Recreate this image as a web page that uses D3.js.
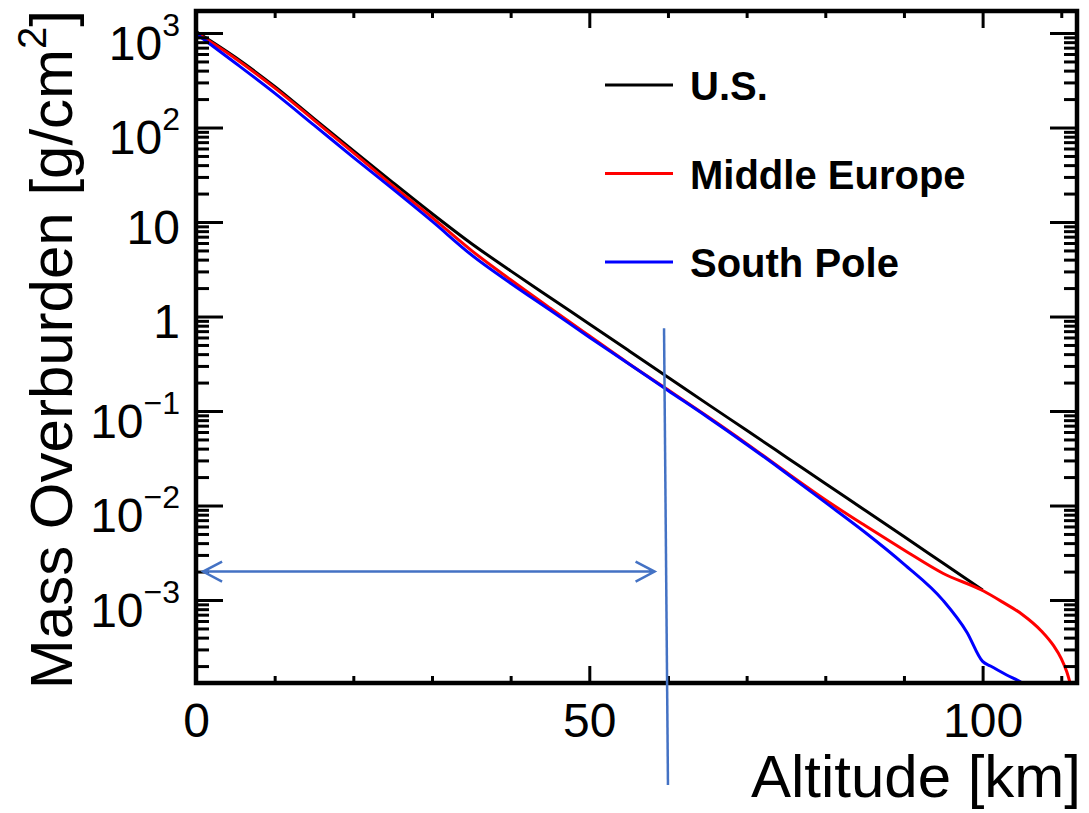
<!DOCTYPE html>
<html lang="en">
<head>
  <meta charset="UTF-8">
  <title>mass overburden</title>
  <script src="https://cdn.jsdelivr.net/npm/d3@7"></script>
</head>
<body>
<style>
  * {
    padding: 0;
    margin: 0;
  }

  body {
    background: #fff;
  }

  svg text {
    font-family: "Liberation Sans", Arial, Helvetica, sans-serif;
    fill: #000;
  }
</style>

<div id="app"></div>

<script>
  // altitude [km] and mass overburden [g/cm^2]
  const altUS = [0, 5, 10, 15, 20, 25, 30, 35, 40, 45, 50, 55, 60, 65, 70, 75, 80, 85, 90, 95, 100];
  const massUS = [1036, 553, 272, 124, 56.9, 26.3, 12.3, 5.93, 3.04, 1.59, 0.833, 0.436, 0.228, 0.119,
    0.0625, 0.0327, 0.0171, 0.00896, 0.00469, 0.00245, 0.00128];

  const altEurope = [0, 5, 10, 15, 20, 25, 30, 35, 40, 45, 50, 55, 60, 65, 70, 75, 80, 85, 90, 95, 100,
    102.5, 105, 107.5, 109, 110, 110.7, 111.3];
  const massEurope = [1012, 538, 263, 120, 54.3, 24.3, 11.2, 5.01, 2.45, 1.23, 0.625, 0.319, 0.168, 0.088,
    0.0452, 0.0226, 0.0115, 0.00617, 0.00339, 0.00191, 0.00126, 0.000955, 0.000708, 0.000468,
    0.000331, 0.000240, 0.000174, 0.000117];

  const altPole = [0, 5, 10, 15, 20, 25, 30, 35, 40, 45, 50, 55, 60, 65, 70, 75, 80, 85, 90, 95, 98, 100,
    101, 103, 105, 105.6];
  const massPole = [988, 482, 231, 106, 48.4, 22.4, 10.2, 4.50, 2.25, 1.17, 0.604, 0.316, 0.165, 0.0865,
    0.0443, 0.0221, 0.0108, 0.00525, 0.00240, 0.000986, 0.000457, 0.000224, 0.000200, 0.000162,
    0.000133, 0.000123];

  const seriesNames = ["U.S.", "Middle Europe", "South Pole"];
  const seriesColors = ["#000000", "#ff0000", "#0000ff"];

  const xMajor = [0, 50, 100];
  const xMinor = [10, 20, 30, 40, 60, 70, 80, 90, 110];
  const yMajor = [1e-3, 1e-2, 1e-1, 1, 10, 100, 1000];
  const yTickBase = ["10", "10", "10", "1", "10", "10", "10"];
  const yTickExp = ["\u22123", "\u22122", "\u22121", "", "", "2", "3"];

  // annotation drawn on top of the figure (altitude km / overburden)
  const arrowAlt = [0.9, 58.3], arrowMass = 2.0e-3;
  const markAlt = [59.5, 60.0], markMass = 0.75;

  let $width = 1089, $height = 813;
  let pLeft = 196, pRight = 1077, pTop = 11, pBottom = 683;

  var svg = d3.select("#app").append("svg").attr("width", $width).attr("height", $height);

  var x = d3.scaleLinear().domain([0, 112]).range([pLeft, pRight]);
  var y = d3.scaleLog().domain([1.324e-4, 1710]).range([pBottom, pTop]);

  var series = [
    altUS.map((a, i) => [a, massUS[i]]),
    altEurope.map((a, i) => [a, massEurope[i]]),
    altPole.map((a, i) => [a, massPole[i]])
  ];

  function styleTicks(g) {
    g.select(".domain").remove();
    g.selectAll(".tick line").attr("stroke", "#000").attr("stroke-width", 3);
  }

  // minor decade ticks 2..9
  let yMinor = [];
  for (let e = -4; e <= 3; e++) {
    for (let m = 2; m <= 9; m++) {
      let v = m * Math.pow(10, e);
      if (v > y.domain()[0] && v < y.domain()[1]) yMinor.push(v);
    }
  }

  // curves
  svg.append("clipPath").attr("id", "plotclip").append("rect")
    .attr("x", pLeft).attr("y", pTop).attr("width", pRight - pLeft).attr("height", pBottom - pTop);

  var line = d3.line().curve(d3.curveMonotoneX).x(d => x(d[0])).y(d => y(d[1]));

  svg.append("g").attr("clip-path", "url(#plotclip)")
    .selectAll("path").data(series).enter().append("path")
    .attr("d", line)
    .attr("fill", "none")
    .attr("stroke", (d, i) => seriesColors[i])
    .attr("stroke-width", 3)
    .attr("stroke-linejoin", "round");

  // axes
  svg.append("g").attr("transform", `translate(0,${pBottom})`)
    .call(d3.axisBottom(x).tickValues(xMinor).tickSize(-7).tickFormat("")).call(styleTicks);
  var xAx = svg.append("g").attr("transform", `translate(0,${pBottom})`)
    .call(d3.axisBottom(x).tickValues(xMajor).tickSize(-17).tickPadding(20).tickFormat(d3.format("d")))
    .call(styleTicks);
  xAx.selectAll("text").style("font-size", "48px");

  svg.append("g").attr("transform", `translate(0,${pTop})`)
    .call(d3.axisTop(x).tickValues(xMinor).tickSize(-7).tickFormat("")).call(styleTicks);
  svg.append("g").attr("transform", `translate(0,${pTop})`)
    .call(d3.axisTop(x).tickValues(xMajor).tickSize(-17).tickFormat("")).call(styleTicks);

  svg.append("g").attr("transform", `translate(${pLeft},0)`)
    .call(d3.axisLeft(y).tickValues(yMinor).tickSize(-13).tickFormat("")).call(styleTicks);
  var yAx = svg.append("g").attr("transform", `translate(${pLeft},0)`)
    .call(d3.axisLeft(y).tickValues(yMajor).tickSize(-27).tickFormat("")).call(styleTicks);

  svg.append("g").attr("transform", `translate(${pRight},0)`)
    .call(d3.axisRight(y).tickValues(yMinor).tickSize(-13).tickFormat("")).call(styleTicks);
  svg.append("g").attr("transform", `translate(${pRight},0)`)
    .call(d3.axisRight(y).tickValues(yMajor).tickSize(-27).tickFormat("")).call(styleTicks);

  // log labels with superscripts
  yAx.selectAll(".tick text").remove();
  yAx.selectAll(".tick").each(function (d, i) {
    let t = d3.select(this).append("text")
      .attr("x", -16)
      .attr("y", yTickExp[i] ? 26 : 21)
      .attr("text-anchor", "end")
      .style("font-size", "48px")
      .text(yTickBase[i]);
    if (yTickExp[i]) {
      t.append("tspan").attr("dy", -24).style("font-size", "32px").text(yTickExp[i]);
    }
  });

  // frame
  svg.append("rect")
    .attr("x", pLeft).attr("y", pTop).attr("width", pRight - pLeft).attr("height", pBottom - pTop)
    .attr("fill", "none").attr("stroke", "#000").attr("stroke-width", 4.5);

  // titles
  svg.append("text")
    .attr("x", 1081).attr("y", 797)
    .attr("text-anchor", "end")
    .style("font-size", "60px")
    .text("Altitude [km]");

  var yt = svg.append("text")
    .attr("transform", "translate(72,10) rotate(-90)")
    .attr("text-anchor", "end")
    .style("font-size", "60px");
  yt.append("tspan").text("Mass Overburden [g/cm");
  yt.append("tspan").attr("dy", -26).style("font-size", "40px").text("2");
  yt.append("tspan").attr("dy", 26).text("]");

  // legend
  var leg = svg.selectAll(".leg").data(seriesNames).enter().append("g")
    .attr("class", "leg")
    .attr("transform", (d, i) => `translate(605,${85 + i * 88.5})`);
  leg.append("line")
    .attr("x1", 0).attr("x2", 68).attr("y1", 0).attr("y2", 0)
    .attr("stroke", (d, i) => seriesColors[i]).attr("stroke-width", 3);
  leg.append("text")
    .attr("x", 85).attr("y", 15)
    .style("font-size", "40px").style("font-weight", "bold")
    .text(d => d);

  // blue annotation: double arrow and vertical marker
  let ax0 = x(arrowAlt[0]), ax1 = x(arrowAlt[1]), ay = y(arrowMass);
  svg.append("path")
    .attr("d", `M${ax0},${ay}L${ax1},${ay}M${ax0 + 19},${ay - 10}L${ax0},${ay}L${ax0 + 19},${ay + 10}` +
      `M${ax1 - 19},${ay - 10}L${ax1},${ay}L${ax1 - 19},${ay + 10}`)
    .attr("fill", "none").attr("stroke", "#4472c4").attr("stroke-width", 2.5);

  svg.append("line")
    .attr("x1", x(markAlt[0])).attr("y1", y(markMass))
    .attr("x2", x(markAlt[1])).attr("y2", 785)
    .attr("stroke", "#4472c4").attr("stroke-width", 2.5);
</script>
</body>
</html>
